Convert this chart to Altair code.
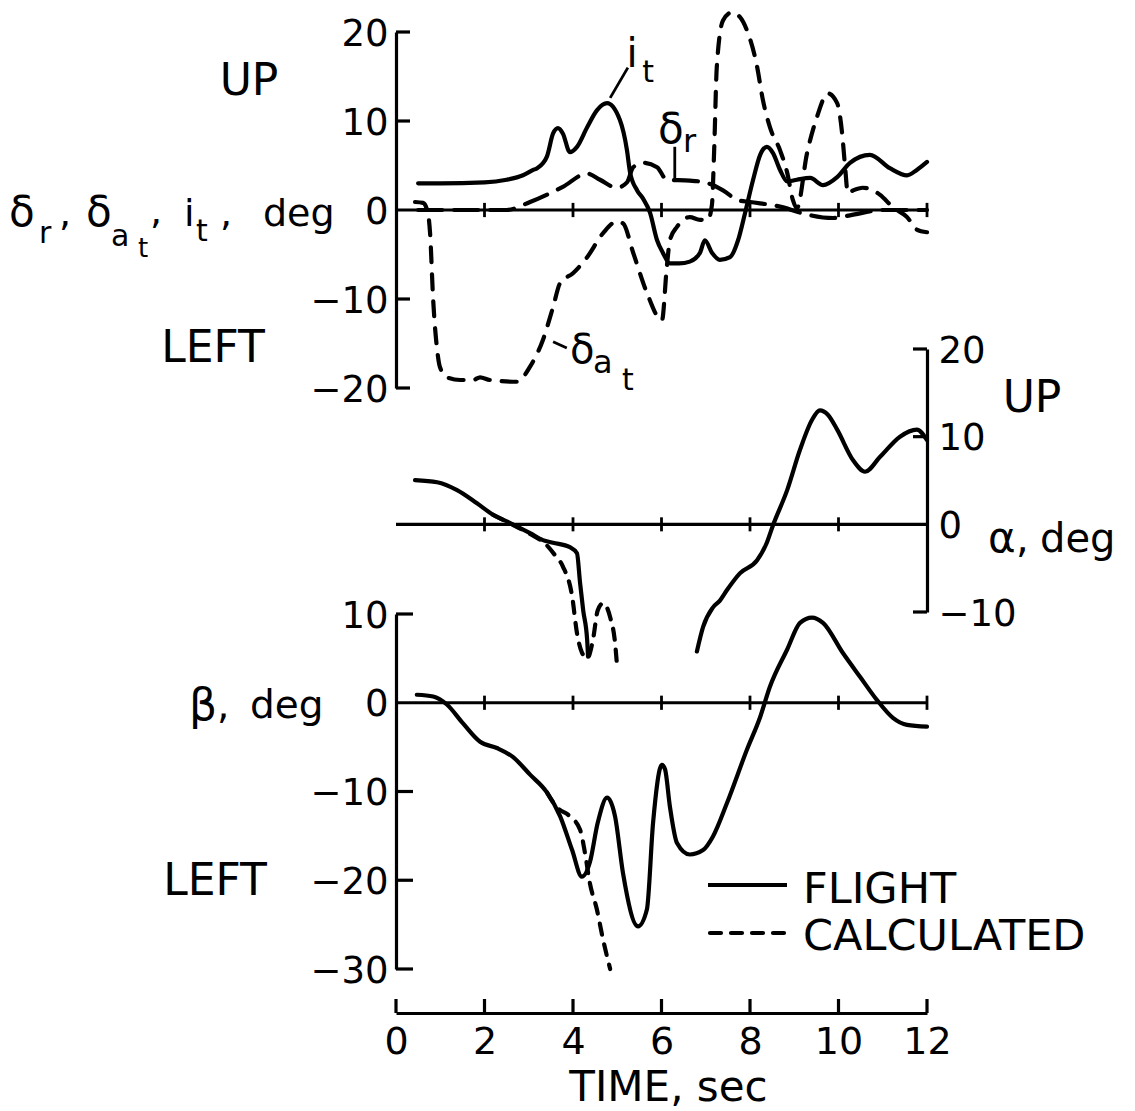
import altair as alt
import pandas as pd

# ---------------- data: time in seconds, angles in degrees ----------------
# stabilizer incidence i_t
IT_T = [0.5, 1.0, 2.0, 2.5, 2.87, 3.1, 3.19, 3.41, 3.55, 3.66, 3.77, 3.93, 4.09, 4.32, 4.54, 4.77,
        5.06, 5.22, 5.29, 5.45, 5.58, 5.74, 5.9, 6.03, 6.19, 6.4, 6.64, 6.87, 6.98, 7.14, 7.32, 7.55,
        7.73, 7.89, 8.07, 8.23, 8.38, 8.52, 8.68, 8.84, 9.06, 9.36, 9.65, 9.97, 10.26, 10.71, 11.16,
        11.55, 11.77, 12.0]
IT_V = [3.0, 3.0, 3.1, 3.4, 3.9, 4.5, 4.7, 6.0, 8.6, 9.2, 8.6, 6.5, 7.1, 9.3, 11.2, 12.0,
        10.1, 6.7, 4.2, 2.2, 1.3, -0.3, -3.4, -4.8, -6.0, -6.0, -5.8, -4.8, -3.4, -4.8, -5.6, -5.3,
        -3.4, -0.3, 3.4, 6.2, 7.1, 6.4, 4.5, 3.2, 3.4, 3.6, 2.8, 3.7, 5.3, 6.2, 4.7,
        3.9, 4.5, 5.4]

# differential tail deflection delta_at
DAT_T = [0.43, 0.61, 0.72, 0.77, 0.84, 0.93, 0.99, 1.15, 1.45, 1.74, 1.9, 2.12, 2.73, 3.03, 3.32,
         3.55, 3.71, 4.0, 4.32, 4.68, 4.99, 5.13, 5.36, 5.67, 6.01, 6.12, 6.19, 6.35, 6.64, 6.87,
         7.05, 7.14, 7.19, 7.25, 7.39, 7.59, 7.77, 7.93, 8.16, 8.29, 8.45, 8.68, 8.84, 8.97, 9.06,
         9.29, 9.51, 9.76, 9.97, 10.08, 10.15, 10.21, 10.33, 10.55, 10.94, 11.23, 11.55, 11.77, 12.0]
DAT_V = [0.9, 0.8, -0.3, -2.6, -10.1, -15.7, -17.6, -18.8, -19.1, -19.1, -18.8, -19.1, -19.3, -17.6, -14.6,
         -10.9, -8.2, -7.1, -5.3, -2.6, -1.3, -1.5, -4.8, -9.3, -12.4, -6.4, -3.4, -1.9, -0.8, -1.1,
         -1.1, 0.6, 6.7, 16.1, 21.3, 22.2, 21.7, 20.2, 16.1, 12.4, 9.3, 6.7, 4.2, 1.1, 0.2,
         6.4, 10.4, 13.1, 12.0, 8.7, 4.8, 1.9, 2.2, 2.5, 1.7, 0.3, -0.8, -2.2, -2.5]

# rudder deflection delta_r
DR_T = [0.5, 1.67, 2.5, 3.03, 3.77, 4.32, 4.61, 4.99, 5.22, 5.36, 5.58, 5.9, 6.12, 6.64, 6.98,
        7.39, 7.73, 8.0, 8.75, 9.13, 9.88, 10.26, 11.0, 12.0]
DR_V = [0.0, 0.0, 0.0, 0.9, 2.6, 4.1, 3.4, 2.5, 3.1, 4.8, 5.3, 4.8, 3.4, 3.3, 3.1,
        2.2, 1.1, 0.9, 0.3, -0.3, -0.9, -0.6, 0.0, 0.0]

# angle of attack, flight record (two pieces: trace leaves the scale between them)
ALPHA_F1_T = [0.43, 0.93, 1.38, 1.83, 2.19, 2.58, 3.03, 3.32, 3.55, 3.93, 4.09, 4.16, 4.23, 4.32, 4.34]
ALPHA_F1_V = [5.05, 4.8, 3.9, 2.4, 1.1, 0.15, -1.0, -1.8, -2.1, -2.6, -3.3, -6.7, -9.8, -13.2, -15.1]
ALPHA_F2_T = [6.8, 6.94, 7.16, 7.32, 7.48, 7.77, 8.16, 8.38, 8.52, 8.84, 9.13, 9.4, 9.58, 9.76,
              9.97, 10.33, 10.6, 10.94, 11.39, 11.77, 12.0]
ALPHA_F2_V = [-14.5, -11.7, -9.5, -8.7, -7.5, -5.6, -4.1, -2.1, -0.1, 3.9, 8.5, 11.9, 13.0, 12.5,
              10.8, 7.3, 6.0, 7.7, 10.0, 10.8, 9.6]
# angle of attack, calculated
ALPHA_C_T = [2.19, 2.58, 3.03, 3.41, 3.59, 3.77, 3.98, 4.09, 4.2, 4.32, 4.45, 4.56, 4.68, 4.84, 4.95, 4.99]
ALPHA_C_V = [1.1, 0.1, -1.1, -2.4, -3.5, -4.8, -8.2, -12.4, -14.6, -15.3, -13.2, -9.8, -9.0, -10.6, -13.5, -15.8]

# sideslip, flight record
BETA_F_T = [0.47, 0.84, 1.15, 1.51, 1.9, 2.28, 2.64, 3.03, 3.41, 3.71, 3.98, 4.2, 4.38, 4.56, 4.77,
            4.95, 5.13, 5.47, 5.67, 5.81, 6.01, 6.08, 6.19, 6.35, 6.64, 6.94, 7.16, 7.48, 7.93, 8.23,
            8.45, 8.84, 9.13, 9.4, 9.65, 10.1, 10.49, 10.87, 11.23, 11.55, 12.0]
BETA_F_V = [0.9, 0.7, -0.2, -2.3, -4.4, -5.1, -6.1, -8.1, -10.1, -12.8, -16.6, -19.6, -18.0, -13.5, -10.7,
            -12.8, -19.2, -25.2, -23.3, -13.5, -7.0, -7.5, -11.7, -15.8, -17.1, -16.6, -15.1, -11.3, -5.3, -1.6,
            1.8, 6.0, 9.0, 9.6, 9.0, 5.6, 2.9, 0.3, -1.7, -2.5, -2.7]
# sideslip, calculated
BETA_C_T = [3.41, 3.64, 3.93, 4.16, 4.27, 4.38, 4.54, 4.68, 4.84]
BETA_C_V = [-10.1, -11.8, -12.8, -14.3, -16.9, -20.3, -23.3, -26.7, -30.0]

TIME_TICKS = [0, 2, 4, 6, 8, 10, 12]
TOP_TICKS = [-20, -10, 0, 10, 20]
ALPHA_TICKS = [-10, 0, 10, 20]
BETA_TICKS = [-30, -20, -10, 0, 10]

# label-leader segments in the control panel (time, deg)
LEADERS = pd.DataFrame({
    "t": [4.84, 6.3, 3.55],
    "t2": [5.24, 6.3, 3.86],
    "v": [12.6, 3.4, -14.8],
    "v2": [16.0, 7.1, -15.5],
})

# ---------------- layout / style ----------------
FONT = "DejaVu Sans"
W, H = 531, 1013
INK = "black"
LINE_W = 4.2
RULE_W = 3.2

x_scale = alt.Scale(domain=[0, 12], nice=False, zero=False)
x_axis = alt.Axis(values=TIME_TICKS, title="TIME, sec", ticks=False, grid=False,
                  labelFlush=False, labelPadding=10, labelFontSize=38, labelFont=FONT,
                  labelColor=INK, titleFont=FONT, titleFontSize=42, titleFontWeight="normal",
                  titleColor=INK, titleX=272, titleY=87, titleBaseline="alphabetic",
                  titleAlign="center", domainColor=INK, domainWidth=RULE_W)


def X(field):
    return alt.X(f"{field}:Q", scale=x_scale, axis=x_axis)


def y_axis(orient, values, pad):
    return alt.Axis(orient=orient, values=values, title=None, ticks=False, grid=False,
                    labelPadding=pad, labelFontSize=37, labelFont=FONT, labelColor=INK,
                    labelOffset=2, domainColor=INK, domainWidth=RULE_W)


def make_y(domain, rng, axis):
    scale = alt.Scale(domain=domain, range=rng, nice=False, zero=False)

    def Y(field):
        return alt.Y(f"{field}:Q", scale=scale, axis=axis)
    return Y


YT = make_y([-20, 20], [388, 32], y_axis("left", TOP_TICKS, 8))
YA = make_y([-10, 20], [612, 349], y_axis("right", ALPHA_TICKS, 11))
YB = make_y([-30, 10], [969, 614], y_axis("left", BETA_TICKS, 8))


def series(ts, vs, seg=0):
    return pd.DataFrame({"t": ts, "v": vs, "seg": seg})


def curve(df, Y, dash=None):
    kw = dict(color=INK, strokeWidth=LINE_W, interpolate="monotone",
              strokeCap="round", strokeJoin="round")
    if dash:
        kw["strokeDash"] = dash
    return alt.Chart(df).mark_line(**kw).encode(x=X("t"), y=Y("v"), detail="seg:N")


def zero_line(Y, tick_times):
    base = alt.Chart(pd.DataFrame({"x0": [0], "x1": [12], "v": [0]})).mark_rule(
        color=INK, strokeWidth=RULE_W).encode(x=X("x0"), x2="x1", y=Y("v"))
    ticks = alt.Chart(pd.DataFrame({"t": tick_times, "lo": -0.8, "hi": 0.8})).mark_rule(
        color=INK, strokeWidth=2.8).encode(x=X("t"), y=Y("lo"), y2="hi")
    return [base, ticks]


def axis_ticks(Y, values, x_from, x_to):
    return alt.Chart(pd.DataFrame({"v": values})).mark_rule(color=INK, strokeWidth=RULE_W).encode(
        x=alt.value(x_from), x2=alt.value(x_to), y=Y("v"))


CALC_DASH = [11, 10]

# control deflections
top = alt.layer(
    *zero_line(YT, TIME_TICKS[1:]),
    axis_ticks(YT, [-20, -10, 10, 20], 0, 14),
    curve(series(DR_T, DR_V), YT, dash=[24, 12]),
    curve(series(DAT_T, DAT_V), YT, dash=[15, 12]),
    curve(series(IT_T, IT_V), YT),
    alt.Chart(LEADERS).mark_rule(color=INK, strokeWidth=2.8).encode(
        x=X("t"), x2="t2", y=YT("v"), y2="v2"),
)

# angle of attack
alpha = alt.layer(
    *zero_line(YA, TIME_TICKS[1:-1]),
    axis_ticks(YA, [-10, 10, 20], W - 14, W),
    curve(pd.concat([series(ALPHA_F1_T, ALPHA_F1_V, 0), series(ALPHA_F2_T, ALPHA_F2_V, 1)]), YA),
    curve(series(ALPHA_C_T, ALPHA_C_V), YA, dash=CALC_DASH),
)

# sideslip
beta = alt.layer(
    *zero_line(YB, TIME_TICKS[1:]),
    axis_ticks(YB, [-30, -20, -10, 10], 0, 17),
    curve(series(BETA_F_T, BETA_F_V), YB),
    curve(series(BETA_C_T, BETA_C_V), YB, dash=CALC_DASH),
)

# time-axis ticks pointing into the plot
time_ticks = alt.Chart(pd.DataFrame({"t": TIME_TICKS})).mark_rule(color=INK, strokeWidth=RULE_W).encode(
    x=X("t"), y=alt.value(H - 14), y2=alt.value(H))


def label(s, x, y, size, align="left"):
    return alt.Chart(pd.DataFrame({"s": [s]})).mark_text(
        font=FONT, fontSize=size, align=align, baseline="alphabetic", color=INK
    ).encode(x=alt.value(x), y=alt.value(y), text="s:N")


LABELS = [
    # control-panel ordinate label with subscripts
    ("δ", -387, 226, 42), ("r", -357, 243, 30), (",", -337, 226, 38),
    ("δ", -310, 226, 42), ("a", -285, 246, 30), ("t", -258, 257, 26), (",", -246, 224, 38),
    ("i", -212, 226, 38), ("t", -200, 241, 30), (",", -176, 226, 38),
    ("deg", -133, 226, 38),
    ("UP", -147, 95, 44, "center"), ("LEFT", -183, 362, 44, "center"),
    # sideslip ordinate
    ("β", -207, 720, 44), (",", -179, 718, 39), ("deg", -146, 718, 39),
    ("LEFT", -181, 895, 44, "center"),
    # angle-of-attack ordinate
    ("α", 592, 552, 42), (",", 620, 552, 40), ("deg", 644, 552, 40),
    ("UP", 636, 412, 44, "center"),
    # curve names
    ("i", 236, 67, 40, "center"), ("t", 252, 82, 30, "center"),
    ("δ", 262, 143, 42), ("r", 287, 152, 32),
    ("δ", 174, 363, 40), ("a", 197, 373, 32), ("t", 226, 390, 30),
    # key
    ("FLIGHT", 407, 903, 43), ("CALCULATED", 407, 950, 43),
]
labels = [label(*item) for item in LABELS]

key_lines = [
    alt.Chart(pd.DataFrame({"k": ["FLIGHT"]})).mark_rule(color=INK, strokeWidth=LINE_W).encode(
        x=alt.value(312), x2=alt.value(391), y=alt.value(885)),
    alt.Chart(pd.DataFrame({"k": ["CALCULATED"]})).mark_rule(
        color=INK, strokeWidth=LINE_W, strokeDash=CALC_DASH, strokeCap="round").encode(
        x=alt.value(314), x2=alt.value(391), y=alt.value(933)),
]

chart = alt.layer(top, alpha, beta, time_ticks, *key_lines, *labels).resolve_scale(
    y="independent"
).properties(
    width=W, height=H,
    autosize=alt.AutoSizeParams(type="none"),
    padding={"left": 396, "right": 208, "top": 0, "bottom": 98},
    background="white",
).configure_view(stroke=None)

chart.save("out.html", embed_options={"renderer": "svg", "actions": False})
